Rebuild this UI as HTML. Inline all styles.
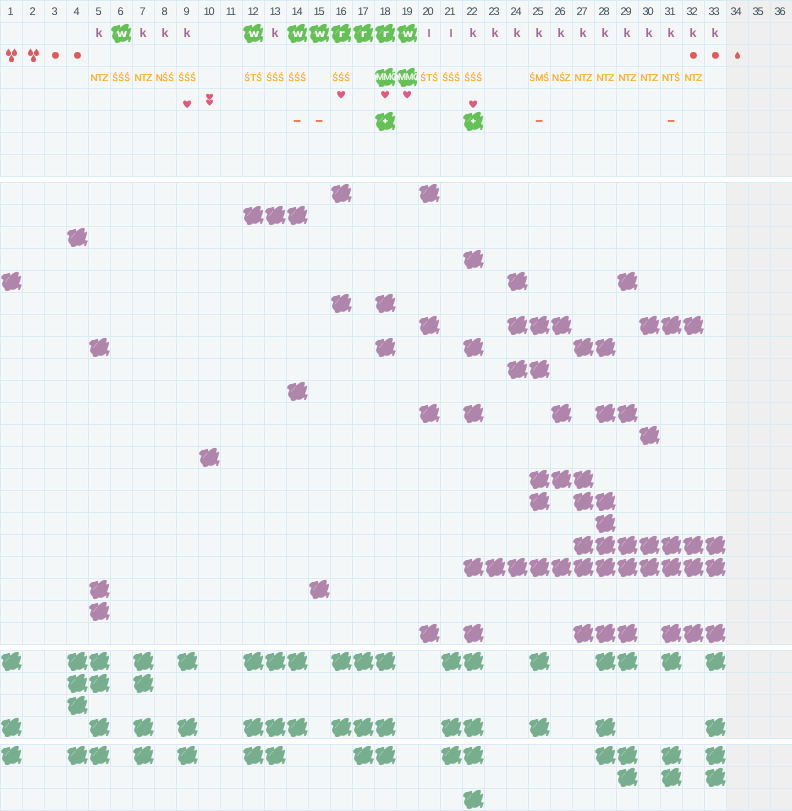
<!DOCTYPE html>
<html lang="pl"><head><meta charset="utf-8"><title>Karta cyklu</title>
<style>
*{box-sizing:border-box;margin:0;padding:0}
html,body{width:792px;height:811px;background:#fff;overflow:hidden}
body{position:relative;text-rendering:geometricPrecision;font-family:"Liberation Sans",Arial,sans-serif;}
.s{position:absolute;left:0;width:792px;border-bottom:1px solid #d9ebf4;background:#f4f7f8}
.r{height:22px;width:792px;display:flex}
.c{position:relative;width:22px;height:22px;flex:0 0 22px;border-left:1px solid #d9ebf4;border-top:1px solid #d9ebf4;overflow:hidden;text-align:center;font-size:11px;line-height:21px;color:#43525c;white-space:nowrap}
.c{box-shadow:inset 0 0 0 1px #f6f8f9}
.c.g{background:#efefef;box-shadow:none}
.n span{display:block;letter-spacing:-1px;position:relative;left:-1px;top:1px}
.n1 span{left:-1.5px}
.n2 span{left:-2px}
.b{position:absolute;left:-1px;top:-1px;width:24px;height:24px}
.b.bg{width:21px}
.bp{fill:#b085ab;stroke:#b085ab}.bn{fill:#77ae8d;stroke:#77ae8d}.bg{fill:#65c056;stroke:#65c056}
.b use:first-child{stroke-width:.1;stroke-linejoin:round}
.i{position:absolute;left:-1px;top:-1px;width:22px;height:22px}
.d1,.d3,.c circle{fill:#df5b5b}
.h{fill:#df5a7f}
.k{position:relative;font-size:12.5px;color:#a46a94;font-weight:bold;left:-.5px;top:0px}
.k.l{font-size:11.2px;top:.5px}
.w{position:relative;font-family:"DejaVu Sans","Liberation Sans",sans-serif;font-size:10.5px;color:#fff;font-weight:bold;z-index:2;left:0;top:1px;display:inline-block;transform:scaleX(1.12)}
.t{position:relative;font-size:9.8px;letter-spacing:-.7px;color:#ffa614;-webkit-text-stroke:.2px #ffa614;z-index:2;display:block;left:-.5px;top:1px}
.t i{display:inline-block;font-style:normal;transform:scaleX(.8);margin:0 .15px}
.t.m{color:#fff;text-align:left;margin-left:1px;margin-right:-6px;letter-spacing:-.55px;font-size:9.6px;left:0;top:0;-webkit-text-stroke:.2px #fff}
.w.p{font-size:6.5px;top:-.6px;left:-.4px;-webkit-text-stroke:.5px #fff;transform:none}
.ds{color:#f07045;font-weight:bold;font-size:12px;position:relative;top:-1.5px;left:-.5px;-webkit-text-stroke:.6px #f07045}
</style></head>
<body>
<svg width="0" height="0" style="position:absolute"><defs>
<path id="bl" d="M1.21 7.58C1.21 7.02 1.32 6.67 1.82 6.06C2.32 5.45 3.16 4.63 3.94 4.24C4.72 3.85 5.17 4.16 6.06 3.94C6.95 3.72 8.07 3.14 8.79 3.03C9.51 2.92 9.72 2.89 10.00 3.33C10.28 3.78 9.91 5.34 10.30 5.45C10.69 5.57 11.34 4.49 12.12 3.94C12.90 3.38 13.66 2.79 14.55 2.42C15.43 2.06 16.25 2.00 16.97 1.97C17.69 1.94 18.18 1.80 18.48 2.27C18.79 2.74 18.75 3.77 18.64 4.55C18.53 5.32 17.74 6.21 17.88 6.52C18.02 6.82 18.84 6.30 19.39 6.21C19.95 6.13 20.69 5.53 20.91 6.06C21.13 6.59 20.83 7.98 20.61 9.09C20.38 10.20 19.97 11.23 19.70 12.12C19.42 13.01 18.92 13.49 19.09 13.94C19.26 14.38 20.13 14.38 20.61 14.55C21.08 14.71 21.61 14.40 21.67 14.85C21.72 15.29 21.21 16.14 20.91 16.97C20.60 17.80 20.39 18.84 20.00 19.39C19.61 19.95 19.13 19.97 18.79 20.00C18.44 20.03 18.20 19.99 18.12 19.55C18.04 19.10 18.57 17.88 18.36 17.58C18.15 17.27 17.67 17.55 16.97 17.88C16.27 18.21 15.43 19.06 14.55 19.39C13.66 19.73 12.84 19.70 12.12 19.70C11.40 19.70 11.16 19.23 10.61 19.39C10.05 19.56 9.81 20.33 9.09 20.61C8.37 20.88 7.39 20.96 6.67 20.91C5.94 20.85 5.54 20.80 5.15 20.30C4.76 19.80 4.93 18.85 4.55 18.18C4.16 17.52 3.47 17.33 3.03 16.67C2.59 16.00 2.23 15.27 2.12 14.55C2.01 13.82 2.20 13.56 2.42 12.73C2.65 11.89 3.44 10.67 3.33 10.00C3.22 9.33 2.21 9.54 1.82 9.09C1.43 8.65 1.21 8.13 1.21 7.58Z"/>
<path id="sk" d="M5.2 11.8L6.6 10.3L8.9 7.2" fill="none" stroke="#fff" stroke-opacity=".55" stroke-width=".6" stroke-linecap="round"/>
<path id="dr" d="M0 -.3C1 1.3 2.55 2.9 2.55 4.45A2.55 2.55 0 0 1 -2.55 4.45C-2.55 2.9 -1 1.3 0 -.3Z"/>
<path id="ht" d="M0 1.5C0.5 0.5 1.3 0 2.2 0C3.3 0 4 0.9 4 2C4 3.8 2.7 5.1 0 7.7C-2.7 5.1 -4 3.8 -4 2C-4 0.9 -3.3 0 -2.2 0C-1.3 0 -0.5 0.5 0 1.5Z"/>
</defs></svg>
<div class="s" style="top:0">
<div class="r"><div class="c n n1"><span>1</span></div><div class="c n n1"><span>2</span></div><div class="c n n1"><span>3</span></div><div class="c n n1"><span>4</span></div><div class="c n n1"><span>5</span></div><div class="c n n1"><span>6</span></div><div class="c n n1"><span>7</span></div><div class="c n n1"><span>8</span></div><div class="c n n1"><span>9</span></div><div class="c n"><span>10</span></div><div class="c n"><span>11</span></div><div class="c n"><span>12</span></div><div class="c n"><span>13</span></div><div class="c n"><span>14</span></div><div class="c n"><span>15</span></div><div class="c n"><span>16</span></div><div class="c n"><span>17</span></div><div class="c n"><span>18</span></div><div class="c n"><span>19</span></div><div class="c n n2"><span>20</span></div><div class="c n n2"><span>21</span></div><div class="c n n2"><span>22</span></div><div class="c n n2"><span>23</span></div><div class="c n n2"><span>24</span></div><div class="c n n2"><span>25</span></div><div class="c n n2"><span>26</span></div><div class="c n n2"><span>27</span></div><div class="c n n2"><span>28</span></div><div class="c n n2"><span>29</span></div><div class="c n n2"><span>30</span></div><div class="c n n2"><span>31</span></div><div class="c n n2"><span>32</span></div><div class="c n n2"><span>33</span></div><div class="c g n n2"><span>34</span></div><div class="c g n n2"><span>35</span></div><div class="c g n n2"><span>36</span></div></div>
<div class="r"><div class="c"></div><div class="c"></div><div class="c"></div><div class="c"></div><div class="c"><b class="k">k</b></div><div class="c"><svg class="b bg" viewBox="0 0 21 24"><use href="#bl"/><use href="#sk"/></svg><b class="w">w</b></div><div class="c"><b class="k">k</b></div><div class="c"><b class="k">k</b></div><div class="c"><b class="k">k</b></div><div class="c"></div><div class="c"></div><div class="c"><svg class="b bg" viewBox="0 0 21 24"><use href="#bl"/><use href="#sk"/></svg><b class="w">w</b></div><div class="c"><b class="k">k</b></div><div class="c"><svg class="b bg" viewBox="0 0 21 24"><use href="#bl"/><use href="#sk"/></svg><b class="w">w</b></div><div class="c"><svg class="b bg" viewBox="0 0 21 24"><use href="#bl"/><use href="#sk"/></svg><b class="w">w</b></div><div class="c"><svg class="b bg" viewBox="0 0 21 24"><use href="#bl"/><use href="#sk"/></svg><b class="w">r</b></div><div class="c"><svg class="b bg" viewBox="0 0 21 24"><use href="#bl"/><use href="#sk"/></svg><b class="w">r</b></div><div class="c"><svg class="b bg" viewBox="0 0 21 24"><use href="#bl"/><use href="#sk"/></svg><b class="w">r</b></div><div class="c"><svg class="b bg" viewBox="0 0 21 24"><use href="#bl"/><use href="#sk"/></svg><b class="w">w</b></div><div class="c"><b class="k l">l</b></div><div class="c"><b class="k l">l</b></div><div class="c"><b class="k">k</b></div><div class="c"><b class="k">k</b></div><div class="c"><b class="k">k</b></div><div class="c"><b class="k">k</b></div><div class="c"><b class="k">k</b></div><div class="c"><b class="k">k</b></div><div class="c"><b class="k">k</b></div><div class="c"><b class="k">k</b></div><div class="c"><b class="k">k</b></div><div class="c"><b class="k">k</b></div><div class="c"><b class="k">k</b></div><div class="c"><b class="k">k</b></div><div class="c g"></div><div class="c g"></div><div class="c g"></div></div>
<div class="r"><div class="c"><svg class="i d3" viewBox="0 0 22 22"><use href="#dr" x="8.5" y="4.9"/><use href="#dr" x="14.5" y="4.9"/><use href="#dr" x="11.5" y="11"/></svg></div><div class="c"><svg class="i d3" viewBox="0 0 22 22"><use href="#dr" x="8.5" y="4.9"/><use href="#dr" x="14.5" y="4.9"/><use href="#dr" x="11.5" y="11"/></svg></div><div class="c"><svg class="i c" viewBox="0 0 22 22"><circle cx="10.95" cy="10.85" r="3.6"/></svg></div><div class="c"><svg class="i c" viewBox="0 0 22 22"><circle cx="10.95" cy="10.85" r="3.6"/></svg></div><div class="c"></div><div class="c"></div><div class="c"></div><div class="c"></div><div class="c"></div><div class="c"></div><div class="c"></div><div class="c"></div><div class="c"></div><div class="c"></div><div class="c"></div><div class="c"></div><div class="c"></div><div class="c"></div><div class="c"></div><div class="c"></div><div class="c"></div><div class="c"></div><div class="c"></div><div class="c"></div><div class="c"></div><div class="c"></div><div class="c"></div><div class="c"></div><div class="c"></div><div class="c"></div><div class="c"></div><div class="c"><svg class="i c" viewBox="0 0 22 22"><circle cx="10.95" cy="10.85" r="3.6"/></svg></div><div class="c"><svg class="i c" viewBox="0 0 22 22"><circle cx="10.95" cy="10.85" r="3.6"/></svg></div><div class="c g"><svg class="i d1" viewBox="0 0 22 22"><use href="#dr" x="11.5" y="7.7"/></svg></div><div class="c g"></div><div class="c g"></div></div>
<div class="r"><div class="c"></div><div class="c"></div><div class="c"></div><div class="c"></div><div class="c"><span class="t">NTZ</span></div><div class="c"><span class="t"><i>Ś</i><i>Ś</i><i>Ś</i></span></div><div class="c"><span class="t">NTZ</span></div><div class="c"><span class="t">N<i>Ś</i><i>Ś</i></span></div><div class="c"><span class="t"><i>Ś</i><i>Ś</i><i>Ś</i></span></div><div class="c"></div><div class="c"></div><div class="c"><span class="t"><i>Ś</i>T<i>Ś</i></span></div><div class="c"><span class="t"><i>Ś</i><i>Ś</i><i>Ś</i></span></div><div class="c"><span class="t"><i>Ś</i><i>Ś</i><i>Ś</i></span></div><div class="c"></div><div class="c"><span class="t"><i>Ś</i><i>Ś</i><i>Ś</i></span></div><div class="c"></div><div class="c"><svg class="b bg" viewBox="0 0 21 24"><use href="#bl"/><use href="#sk"/></svg><span class="t m">MMO</span></div><div class="c"><svg class="b bg" viewBox="0 0 21 24"><use href="#bl"/><use href="#sk"/></svg><span class="t m">MMO</span></div><div class="c"><span class="t"><i>Ś</i>T<i>Ś</i></span></div><div class="c"><span class="t"><i>Ś</i><i>Ś</i><i>Ś</i></span></div><div class="c"><span class="t"><i>Ś</i><i>Ś</i><i>Ś</i></span></div><div class="c"></div><div class="c"></div><div class="c"><span class="t"><i>Ś</i>M<i>Ś</i></span></div><div class="c"><span class="t">N<i>Ś</i>Z</span></div><div class="c"><span class="t">NTZ</span></div><div class="c"><span class="t">NTZ</span></div><div class="c"><span class="t">NTZ</span></div><div class="c"><span class="t">NTZ</span></div><div class="c"><span class="t">NT<i>Ś</i></span></div><div class="c"><span class="t">NTZ</span></div><div class="c"></div><div class="c g"></div><div class="c g"></div><div class="c g"></div></div>
<div class="r"><div class="c"></div><div class="c"></div><div class="c"></div><div class="c"></div><div class="c"></div><div class="c"></div><div class="c"></div><div class="c"></div><div class="c"><svg class="i h" viewBox="0 0 22 22"><use href="#ht" transform="translate(11.1 12.4)"/></svg></div><div class="c"><svg class="i h" viewBox="0 0 22 22"><use href="#ht" transform="translate(11.55 5.8) scale(.875 .8)"/></svg><svg class="i h" viewBox="0 0 22 22"><use href="#ht" transform="translate(11.55 11.5) scale(.875 .8)"/></svg></div><div class="c"></div><div class="c"></div><div class="c"></div><div class="c"></div><div class="c"></div><div class="c"><svg class="i h" viewBox="0 0 22 22"><use href="#ht" transform="translate(11.1 2.9)"/></svg></div><div class="c"></div><div class="c"><svg class="i h" viewBox="0 0 22 22"><use href="#ht" transform="translate(11.1 2.9)"/></svg></div><div class="c"><svg class="i h" viewBox="0 0 22 22"><use href="#ht" transform="translate(11.1 2.9)"/></svg></div><div class="c"></div><div class="c"></div><div class="c"><svg class="i h" viewBox="0 0 22 22"><use href="#ht" transform="translate(11.1 12.4)"/></svg></div><div class="c"></div><div class="c"></div><div class="c"></div><div class="c"></div><div class="c"></div><div class="c"></div><div class="c"></div><div class="c"></div><div class="c"></div><div class="c"></div><div class="c"></div><div class="c g"></div><div class="c g"></div><div class="c g"></div></div>
<div class="r"><div class="c"></div><div class="c"></div><div class="c"></div><div class="c"></div><div class="c"></div><div class="c"></div><div class="c"></div><div class="c"></div><div class="c"></div><div class="c"></div><div class="c"></div><div class="c"></div><div class="c"></div><div class="c"><span class="ds">–</span></div><div class="c"><span class="ds">–</span></div><div class="c"></div><div class="c"></div><div class="c"><svg class="b bg" viewBox="0 0 21 24"><use href="#bl"/><use href="#sk"/></svg><b class="w p">+</b></div><div class="c"></div><div class="c"></div><div class="c"></div><div class="c"><svg class="b bg" viewBox="0 0 21 24"><use href="#bl"/><use href="#sk"/></svg><b class="w p">+</b></div><div class="c"></div><div class="c"></div><div class="c"><span class="ds">–</span></div><div class="c"></div><div class="c"></div><div class="c"></div><div class="c"></div><div class="c"></div><div class="c"><span class="ds">–</span></div><div class="c"></div><div class="c"></div><div class="c g"></div><div class="c g"></div><div class="c g"></div></div>
<div class="r"><div class="c"></div><div class="c"></div><div class="c"></div><div class="c"></div><div class="c"></div><div class="c"></div><div class="c"></div><div class="c"></div><div class="c"></div><div class="c"></div><div class="c"></div><div class="c"></div><div class="c"></div><div class="c"></div><div class="c"></div><div class="c"></div><div class="c"></div><div class="c"></div><div class="c"></div><div class="c"></div><div class="c"></div><div class="c"></div><div class="c"></div><div class="c"></div><div class="c"></div><div class="c"></div><div class="c"></div><div class="c"></div><div class="c"></div><div class="c"></div><div class="c"></div><div class="c"></div><div class="c"></div><div class="c g"></div><div class="c g"></div><div class="c g"></div></div>
<div class="r"><div class="c"></div><div class="c"></div><div class="c"></div><div class="c"></div><div class="c"></div><div class="c"></div><div class="c"></div><div class="c"></div><div class="c"></div><div class="c"></div><div class="c"></div><div class="c"></div><div class="c"></div><div class="c"></div><div class="c"></div><div class="c"></div><div class="c"></div><div class="c"></div><div class="c"></div><div class="c"></div><div class="c"></div><div class="c"></div><div class="c"></div><div class="c"></div><div class="c"></div><div class="c"></div><div class="c"></div><div class="c"></div><div class="c"></div><div class="c"></div><div class="c"></div><div class="c"></div><div class="c"></div><div class="c g"></div><div class="c g"></div><div class="c g"></div></div>
</div>
<div class="s" style="top:182px">
<div class="r"><div class="c"></div><div class="c"></div><div class="c"></div><div class="c"></div><div class="c"></div><div class="c"></div><div class="c"></div><div class="c"></div><div class="c"></div><div class="c"></div><div class="c"></div><div class="c"></div><div class="c"></div><div class="c"></div><div class="c"></div><div class="c"><svg class="b bp" viewBox="0 0 24 24"><use href="#bl"/><use href="#sk"/></svg></div><div class="c"></div><div class="c"></div><div class="c"></div><div class="c"><svg class="b bp" viewBox="0 0 24 24"><use href="#bl"/><use href="#sk"/></svg></div><div class="c"></div><div class="c"></div><div class="c"></div><div class="c"></div><div class="c"></div><div class="c"></div><div class="c"></div><div class="c"></div><div class="c"></div><div class="c"></div><div class="c"></div><div class="c"></div><div class="c"></div><div class="c g"></div><div class="c g"></div><div class="c g"></div></div>
<div class="r"><div class="c"></div><div class="c"></div><div class="c"></div><div class="c"></div><div class="c"></div><div class="c"></div><div class="c"></div><div class="c"></div><div class="c"></div><div class="c"></div><div class="c"></div><div class="c"><svg class="b bp" viewBox="0 0 24 24"><use href="#bl"/><use href="#sk"/></svg></div><div class="c"><svg class="b bp" viewBox="0 0 24 24"><use href="#bl"/><use href="#sk"/></svg></div><div class="c"><svg class="b bp" viewBox="0 0 24 24"><use href="#bl"/><use href="#sk"/></svg></div><div class="c"></div><div class="c"></div><div class="c"></div><div class="c"></div><div class="c"></div><div class="c"></div><div class="c"></div><div class="c"></div><div class="c"></div><div class="c"></div><div class="c"></div><div class="c"></div><div class="c"></div><div class="c"></div><div class="c"></div><div class="c"></div><div class="c"></div><div class="c"></div><div class="c"></div><div class="c g"></div><div class="c g"></div><div class="c g"></div></div>
<div class="r"><div class="c"></div><div class="c"></div><div class="c"></div><div class="c"><svg class="b bp" viewBox="0 0 24 24"><use href="#bl"/><use href="#sk"/></svg></div><div class="c"></div><div class="c"></div><div class="c"></div><div class="c"></div><div class="c"></div><div class="c"></div><div class="c"></div><div class="c"></div><div class="c"></div><div class="c"></div><div class="c"></div><div class="c"></div><div class="c"></div><div class="c"></div><div class="c"></div><div class="c"></div><div class="c"></div><div class="c"></div><div class="c"></div><div class="c"></div><div class="c"></div><div class="c"></div><div class="c"></div><div class="c"></div><div class="c"></div><div class="c"></div><div class="c"></div><div class="c"></div><div class="c"></div><div class="c g"></div><div class="c g"></div><div class="c g"></div></div>
<div class="r"><div class="c"></div><div class="c"></div><div class="c"></div><div class="c"></div><div class="c"></div><div class="c"></div><div class="c"></div><div class="c"></div><div class="c"></div><div class="c"></div><div class="c"></div><div class="c"></div><div class="c"></div><div class="c"></div><div class="c"></div><div class="c"></div><div class="c"></div><div class="c"></div><div class="c"></div><div class="c"></div><div class="c"></div><div class="c"><svg class="b bp" viewBox="0 0 24 24"><use href="#bl"/><use href="#sk"/></svg></div><div class="c"></div><div class="c"></div><div class="c"></div><div class="c"></div><div class="c"></div><div class="c"></div><div class="c"></div><div class="c"></div><div class="c"></div><div class="c"></div><div class="c"></div><div class="c g"></div><div class="c g"></div><div class="c g"></div></div>
<div class="r"><div class="c"><svg class="b bp" viewBox="0 0 24 24"><use href="#bl"/><use href="#sk"/></svg></div><div class="c"></div><div class="c"></div><div class="c"></div><div class="c"></div><div class="c"></div><div class="c"></div><div class="c"></div><div class="c"></div><div class="c"></div><div class="c"></div><div class="c"></div><div class="c"></div><div class="c"></div><div class="c"></div><div class="c"></div><div class="c"></div><div class="c"></div><div class="c"></div><div class="c"></div><div class="c"></div><div class="c"></div><div class="c"></div><div class="c"><svg class="b bp" viewBox="0 0 24 24"><use href="#bl"/><use href="#sk"/></svg></div><div class="c"></div><div class="c"></div><div class="c"></div><div class="c"></div><div class="c"><svg class="b bp" viewBox="0 0 24 24"><use href="#bl"/><use href="#sk"/></svg></div><div class="c"></div><div class="c"></div><div class="c"></div><div class="c"></div><div class="c g"></div><div class="c g"></div><div class="c g"></div></div>
<div class="r"><div class="c"></div><div class="c"></div><div class="c"></div><div class="c"></div><div class="c"></div><div class="c"></div><div class="c"></div><div class="c"></div><div class="c"></div><div class="c"></div><div class="c"></div><div class="c"></div><div class="c"></div><div class="c"></div><div class="c"></div><div class="c"><svg class="b bp" viewBox="0 0 24 24"><use href="#bl"/><use href="#sk"/></svg></div><div class="c"></div><div class="c"><svg class="b bp" viewBox="0 0 24 24"><use href="#bl"/><use href="#sk"/></svg></div><div class="c"></div><div class="c"></div><div class="c"></div><div class="c"></div><div class="c"></div><div class="c"></div><div class="c"></div><div class="c"></div><div class="c"></div><div class="c"></div><div class="c"></div><div class="c"></div><div class="c"></div><div class="c"></div><div class="c"></div><div class="c g"></div><div class="c g"></div><div class="c g"></div></div>
<div class="r"><div class="c"></div><div class="c"></div><div class="c"></div><div class="c"></div><div class="c"></div><div class="c"></div><div class="c"></div><div class="c"></div><div class="c"></div><div class="c"></div><div class="c"></div><div class="c"></div><div class="c"></div><div class="c"></div><div class="c"></div><div class="c"></div><div class="c"></div><div class="c"></div><div class="c"></div><div class="c"><svg class="b bp" viewBox="0 0 24 24"><use href="#bl"/><use href="#sk"/></svg></div><div class="c"></div><div class="c"></div><div class="c"></div><div class="c"><svg class="b bp" viewBox="0 0 24 24"><use href="#bl"/><use href="#sk"/></svg></div><div class="c"><svg class="b bp" viewBox="0 0 24 24"><use href="#bl"/><use href="#sk"/></svg></div><div class="c"><svg class="b bp" viewBox="0 0 24 24"><use href="#bl"/><use href="#sk"/></svg></div><div class="c"></div><div class="c"></div><div class="c"></div><div class="c"><svg class="b bp" viewBox="0 0 24 24"><use href="#bl"/><use href="#sk"/></svg></div><div class="c"><svg class="b bp" viewBox="0 0 24 24"><use href="#bl"/><use href="#sk"/></svg></div><div class="c"><svg class="b bp" viewBox="0 0 24 24"><use href="#bl"/><use href="#sk"/></svg></div><div class="c"></div><div class="c g"></div><div class="c g"></div><div class="c g"></div></div>
<div class="r"><div class="c"></div><div class="c"></div><div class="c"></div><div class="c"></div><div class="c"><svg class="b bp" viewBox="0 0 24 24"><use href="#bl"/><use href="#sk"/></svg></div><div class="c"></div><div class="c"></div><div class="c"></div><div class="c"></div><div class="c"></div><div class="c"></div><div class="c"></div><div class="c"></div><div class="c"></div><div class="c"></div><div class="c"></div><div class="c"></div><div class="c"><svg class="b bp" viewBox="0 0 24 24"><use href="#bl"/><use href="#sk"/></svg></div><div class="c"></div><div class="c"></div><div class="c"></div><div class="c"><svg class="b bp" viewBox="0 0 24 24"><use href="#bl"/><use href="#sk"/></svg></div><div class="c"></div><div class="c"></div><div class="c"></div><div class="c"></div><div class="c"><svg class="b bp" viewBox="0 0 24 24"><use href="#bl"/><use href="#sk"/></svg></div><div class="c"><svg class="b bp" viewBox="0 0 24 24"><use href="#bl"/><use href="#sk"/></svg></div><div class="c"></div><div class="c"></div><div class="c"></div><div class="c"></div><div class="c"></div><div class="c g"></div><div class="c g"></div><div class="c g"></div></div>
<div class="r"><div class="c"></div><div class="c"></div><div class="c"></div><div class="c"></div><div class="c"></div><div class="c"></div><div class="c"></div><div class="c"></div><div class="c"></div><div class="c"></div><div class="c"></div><div class="c"></div><div class="c"></div><div class="c"></div><div class="c"></div><div class="c"></div><div class="c"></div><div class="c"></div><div class="c"></div><div class="c"></div><div class="c"></div><div class="c"></div><div class="c"></div><div class="c"><svg class="b bp" viewBox="0 0 24 24"><use href="#bl"/><use href="#sk"/></svg></div><div class="c"><svg class="b bp" viewBox="0 0 24 24"><use href="#bl"/><use href="#sk"/></svg></div><div class="c"></div><div class="c"></div><div class="c"></div><div class="c"></div><div class="c"></div><div class="c"></div><div class="c"></div><div class="c"></div><div class="c g"></div><div class="c g"></div><div class="c g"></div></div>
<div class="r"><div class="c"></div><div class="c"></div><div class="c"></div><div class="c"></div><div class="c"></div><div class="c"></div><div class="c"></div><div class="c"></div><div class="c"></div><div class="c"></div><div class="c"></div><div class="c"></div><div class="c"></div><div class="c"><svg class="b bp" viewBox="0 0 24 24"><use href="#bl"/><use href="#sk"/></svg></div><div class="c"></div><div class="c"></div><div class="c"></div><div class="c"></div><div class="c"></div><div class="c"></div><div class="c"></div><div class="c"></div><div class="c"></div><div class="c"></div><div class="c"></div><div class="c"></div><div class="c"></div><div class="c"></div><div class="c"></div><div class="c"></div><div class="c"></div><div class="c"></div><div class="c"></div><div class="c g"></div><div class="c g"></div><div class="c g"></div></div>
<div class="r"><div class="c"></div><div class="c"></div><div class="c"></div><div class="c"></div><div class="c"></div><div class="c"></div><div class="c"></div><div class="c"></div><div class="c"></div><div class="c"></div><div class="c"></div><div class="c"></div><div class="c"></div><div class="c"></div><div class="c"></div><div class="c"></div><div class="c"></div><div class="c"></div><div class="c"></div><div class="c"><svg class="b bp" viewBox="0 0 24 24"><use href="#bl"/><use href="#sk"/></svg></div><div class="c"></div><div class="c"><svg class="b bp" viewBox="0 0 24 24"><use href="#bl"/><use href="#sk"/></svg></div><div class="c"></div><div class="c"></div><div class="c"></div><div class="c"><svg class="b bp" viewBox="0 0 24 24"><use href="#bl"/><use href="#sk"/></svg></div><div class="c"></div><div class="c"><svg class="b bp" viewBox="0 0 24 24"><use href="#bl"/><use href="#sk"/></svg></div><div class="c"><svg class="b bp" viewBox="0 0 24 24"><use href="#bl"/><use href="#sk"/></svg></div><div class="c"></div><div class="c"></div><div class="c"></div><div class="c"></div><div class="c g"></div><div class="c g"></div><div class="c g"></div></div>
<div class="r"><div class="c"></div><div class="c"></div><div class="c"></div><div class="c"></div><div class="c"></div><div class="c"></div><div class="c"></div><div class="c"></div><div class="c"></div><div class="c"></div><div class="c"></div><div class="c"></div><div class="c"></div><div class="c"></div><div class="c"></div><div class="c"></div><div class="c"></div><div class="c"></div><div class="c"></div><div class="c"></div><div class="c"></div><div class="c"></div><div class="c"></div><div class="c"></div><div class="c"></div><div class="c"></div><div class="c"></div><div class="c"></div><div class="c"></div><div class="c"><svg class="b bp" viewBox="0 0 24 24"><use href="#bl"/><use href="#sk"/></svg></div><div class="c"></div><div class="c"></div><div class="c"></div><div class="c g"></div><div class="c g"></div><div class="c g"></div></div>
<div class="r"><div class="c"></div><div class="c"></div><div class="c"></div><div class="c"></div><div class="c"></div><div class="c"></div><div class="c"></div><div class="c"></div><div class="c"></div><div class="c"><svg class="b bp" viewBox="0 0 24 24"><use href="#bl"/><use href="#sk"/></svg></div><div class="c"></div><div class="c"></div><div class="c"></div><div class="c"></div><div class="c"></div><div class="c"></div><div class="c"></div><div class="c"></div><div class="c"></div><div class="c"></div><div class="c"></div><div class="c"></div><div class="c"></div><div class="c"></div><div class="c"></div><div class="c"></div><div class="c"></div><div class="c"></div><div class="c"></div><div class="c"></div><div class="c"></div><div class="c"></div><div class="c"></div><div class="c g"></div><div class="c g"></div><div class="c g"></div></div>
<div class="r"><div class="c"></div><div class="c"></div><div class="c"></div><div class="c"></div><div class="c"></div><div class="c"></div><div class="c"></div><div class="c"></div><div class="c"></div><div class="c"></div><div class="c"></div><div class="c"></div><div class="c"></div><div class="c"></div><div class="c"></div><div class="c"></div><div class="c"></div><div class="c"></div><div class="c"></div><div class="c"></div><div class="c"></div><div class="c"></div><div class="c"></div><div class="c"></div><div class="c"><svg class="b bp" viewBox="0 0 24 24"><use href="#bl"/><use href="#sk"/></svg></div><div class="c"><svg class="b bp" viewBox="0 0 24 24"><use href="#bl"/><use href="#sk"/></svg></div><div class="c"><svg class="b bp" viewBox="0 0 24 24"><use href="#bl"/><use href="#sk"/></svg></div><div class="c"></div><div class="c"></div><div class="c"></div><div class="c"></div><div class="c"></div><div class="c"></div><div class="c g"></div><div class="c g"></div><div class="c g"></div></div>
<div class="r"><div class="c"></div><div class="c"></div><div class="c"></div><div class="c"></div><div class="c"></div><div class="c"></div><div class="c"></div><div class="c"></div><div class="c"></div><div class="c"></div><div class="c"></div><div class="c"></div><div class="c"></div><div class="c"></div><div class="c"></div><div class="c"></div><div class="c"></div><div class="c"></div><div class="c"></div><div class="c"></div><div class="c"></div><div class="c"></div><div class="c"></div><div class="c"></div><div class="c"><svg class="b bp" viewBox="0 0 24 24"><use href="#bl"/><use href="#sk"/></svg></div><div class="c"></div><div class="c"><svg class="b bp" viewBox="0 0 24 24"><use href="#bl"/><use href="#sk"/></svg></div><div class="c"><svg class="b bp" viewBox="0 0 24 24"><use href="#bl"/><use href="#sk"/></svg></div><div class="c"></div><div class="c"></div><div class="c"></div><div class="c"></div><div class="c"></div><div class="c g"></div><div class="c g"></div><div class="c g"></div></div>
<div class="r"><div class="c"></div><div class="c"></div><div class="c"></div><div class="c"></div><div class="c"></div><div class="c"></div><div class="c"></div><div class="c"></div><div class="c"></div><div class="c"></div><div class="c"></div><div class="c"></div><div class="c"></div><div class="c"></div><div class="c"></div><div class="c"></div><div class="c"></div><div class="c"></div><div class="c"></div><div class="c"></div><div class="c"></div><div class="c"></div><div class="c"></div><div class="c"></div><div class="c"></div><div class="c"></div><div class="c"></div><div class="c"><svg class="b bp" viewBox="0 0 24 24"><use href="#bl"/><use href="#sk"/></svg></div><div class="c"></div><div class="c"></div><div class="c"></div><div class="c"></div><div class="c"></div><div class="c g"></div><div class="c g"></div><div class="c g"></div></div>
<div class="r"><div class="c"></div><div class="c"></div><div class="c"></div><div class="c"></div><div class="c"></div><div class="c"></div><div class="c"></div><div class="c"></div><div class="c"></div><div class="c"></div><div class="c"></div><div class="c"></div><div class="c"></div><div class="c"></div><div class="c"></div><div class="c"></div><div class="c"></div><div class="c"></div><div class="c"></div><div class="c"></div><div class="c"></div><div class="c"></div><div class="c"></div><div class="c"></div><div class="c"></div><div class="c"></div><div class="c"><svg class="b bp" viewBox="0 0 24 24"><use href="#bl"/><use href="#sk"/></svg></div><div class="c"><svg class="b bp" viewBox="0 0 24 24"><use href="#bl"/><use href="#sk"/></svg></div><div class="c"><svg class="b bp" viewBox="0 0 24 24"><use href="#bl"/><use href="#sk"/></svg></div><div class="c"><svg class="b bp" viewBox="0 0 24 24"><use href="#bl"/><use href="#sk"/></svg></div><div class="c"><svg class="b bp" viewBox="0 0 24 24"><use href="#bl"/><use href="#sk"/></svg></div><div class="c"><svg class="b bp" viewBox="0 0 24 24"><use href="#bl"/><use href="#sk"/></svg></div><div class="c"><svg class="b bp" viewBox="0 0 24 24"><use href="#bl"/><use href="#sk"/></svg></div><div class="c g"></div><div class="c g"></div><div class="c g"></div></div>
<div class="r"><div class="c"></div><div class="c"></div><div class="c"></div><div class="c"></div><div class="c"></div><div class="c"></div><div class="c"></div><div class="c"></div><div class="c"></div><div class="c"></div><div class="c"></div><div class="c"></div><div class="c"></div><div class="c"></div><div class="c"></div><div class="c"></div><div class="c"></div><div class="c"></div><div class="c"></div><div class="c"></div><div class="c"></div><div class="c"><svg class="b bp" viewBox="0 0 24 24"><use href="#bl"/><use href="#sk"/></svg></div><div class="c"><svg class="b bp" viewBox="0 0 24 24"><use href="#bl"/><use href="#sk"/></svg></div><div class="c"><svg class="b bp" viewBox="0 0 24 24"><use href="#bl"/><use href="#sk"/></svg></div><div class="c"><svg class="b bp" viewBox="0 0 24 24"><use href="#bl"/><use href="#sk"/></svg></div><div class="c"><svg class="b bp" viewBox="0 0 24 24"><use href="#bl"/><use href="#sk"/></svg></div><div class="c"><svg class="b bp" viewBox="0 0 24 24"><use href="#bl"/><use href="#sk"/></svg></div><div class="c"><svg class="b bp" viewBox="0 0 24 24"><use href="#bl"/><use href="#sk"/></svg></div><div class="c"><svg class="b bp" viewBox="0 0 24 24"><use href="#bl"/><use href="#sk"/></svg></div><div class="c"><svg class="b bp" viewBox="0 0 24 24"><use href="#bl"/><use href="#sk"/></svg></div><div class="c"><svg class="b bp" viewBox="0 0 24 24"><use href="#bl"/><use href="#sk"/></svg></div><div class="c"><svg class="b bp" viewBox="0 0 24 24"><use href="#bl"/><use href="#sk"/></svg></div><div class="c"><svg class="b bp" viewBox="0 0 24 24"><use href="#bl"/><use href="#sk"/></svg></div><div class="c g"></div><div class="c g"></div><div class="c g"></div></div>
<div class="r"><div class="c"></div><div class="c"></div><div class="c"></div><div class="c"></div><div class="c"><svg class="b bp" viewBox="0 0 24 24"><use href="#bl"/><use href="#sk"/></svg></div><div class="c"></div><div class="c"></div><div class="c"></div><div class="c"></div><div class="c"></div><div class="c"></div><div class="c"></div><div class="c"></div><div class="c"></div><div class="c"><svg class="b bp" viewBox="0 0 24 24"><use href="#bl"/><use href="#sk"/></svg></div><div class="c"></div><div class="c"></div><div class="c"></div><div class="c"></div><div class="c"></div><div class="c"></div><div class="c"></div><div class="c"></div><div class="c"></div><div class="c"></div><div class="c"></div><div class="c"></div><div class="c"></div><div class="c"></div><div class="c"></div><div class="c"></div><div class="c"></div><div class="c"></div><div class="c g"></div><div class="c g"></div><div class="c g"></div></div>
<div class="r"><div class="c"></div><div class="c"></div><div class="c"></div><div class="c"></div><div class="c"><svg class="b bp" viewBox="0 0 24 24"><use href="#bl"/><use href="#sk"/></svg></div><div class="c"></div><div class="c"></div><div class="c"></div><div class="c"></div><div class="c"></div><div class="c"></div><div class="c"></div><div class="c"></div><div class="c"></div><div class="c"></div><div class="c"></div><div class="c"></div><div class="c"></div><div class="c"></div><div class="c"></div><div class="c"></div><div class="c"></div><div class="c"></div><div class="c"></div><div class="c"></div><div class="c"></div><div class="c"></div><div class="c"></div><div class="c"></div><div class="c"></div><div class="c"></div><div class="c"></div><div class="c"></div><div class="c g"></div><div class="c g"></div><div class="c g"></div></div>
<div class="r"><div class="c"></div><div class="c"></div><div class="c"></div><div class="c"></div><div class="c"></div><div class="c"></div><div class="c"></div><div class="c"></div><div class="c"></div><div class="c"></div><div class="c"></div><div class="c"></div><div class="c"></div><div class="c"></div><div class="c"></div><div class="c"></div><div class="c"></div><div class="c"></div><div class="c"></div><div class="c"><svg class="b bp" viewBox="0 0 24 24"><use href="#bl"/><use href="#sk"/></svg></div><div class="c"></div><div class="c"><svg class="b bp" viewBox="0 0 24 24"><use href="#bl"/><use href="#sk"/></svg></div><div class="c"></div><div class="c"></div><div class="c"></div><div class="c"></div><div class="c"><svg class="b bp" viewBox="0 0 24 24"><use href="#bl"/><use href="#sk"/></svg></div><div class="c"><svg class="b bp" viewBox="0 0 24 24"><use href="#bl"/><use href="#sk"/></svg></div><div class="c"><svg class="b bp" viewBox="0 0 24 24"><use href="#bl"/><use href="#sk"/></svg></div><div class="c"></div><div class="c"><svg class="b bp" viewBox="0 0 24 24"><use href="#bl"/><use href="#sk"/></svg></div><div class="c"><svg class="b bp" viewBox="0 0 24 24"><use href="#bl"/><use href="#sk"/></svg></div><div class="c"><svg class="b bp" viewBox="0 0 24 24"><use href="#bl"/><use href="#sk"/></svg></div><div class="c g"></div><div class="c g"></div><div class="c g"></div></div>
</div>
<div class="s" style="top:650px">
<div class="r"><div class="c"><svg class="b bn" viewBox="0 0 24 24"><use href="#bl"/><use href="#sk"/></svg></div><div class="c"></div><div class="c"></div><div class="c"><svg class="b bn" viewBox="0 0 24 24"><use href="#bl"/><use href="#sk"/></svg></div><div class="c"><svg class="b bn" viewBox="0 0 24 24"><use href="#bl"/><use href="#sk"/></svg></div><div class="c"></div><div class="c"><svg class="b bn" viewBox="0 0 24 24"><use href="#bl"/><use href="#sk"/></svg></div><div class="c"></div><div class="c"><svg class="b bn" viewBox="0 0 24 24"><use href="#bl"/><use href="#sk"/></svg></div><div class="c"></div><div class="c"></div><div class="c"><svg class="b bn" viewBox="0 0 24 24"><use href="#bl"/><use href="#sk"/></svg></div><div class="c"><svg class="b bn" viewBox="0 0 24 24"><use href="#bl"/><use href="#sk"/></svg></div><div class="c"><svg class="b bn" viewBox="0 0 24 24"><use href="#bl"/><use href="#sk"/></svg></div><div class="c"></div><div class="c"><svg class="b bn" viewBox="0 0 24 24"><use href="#bl"/><use href="#sk"/></svg></div><div class="c"><svg class="b bn" viewBox="0 0 24 24"><use href="#bl"/><use href="#sk"/></svg></div><div class="c"><svg class="b bn" viewBox="0 0 24 24"><use href="#bl"/><use href="#sk"/></svg></div><div class="c"></div><div class="c"></div><div class="c"><svg class="b bn" viewBox="0 0 24 24"><use href="#bl"/><use href="#sk"/></svg></div><div class="c"><svg class="b bn" viewBox="0 0 24 24"><use href="#bl"/><use href="#sk"/></svg></div><div class="c"></div><div class="c"></div><div class="c"><svg class="b bn" viewBox="0 0 24 24"><use href="#bl"/><use href="#sk"/></svg></div><div class="c"></div><div class="c"></div><div class="c"><svg class="b bn" viewBox="0 0 24 24"><use href="#bl"/><use href="#sk"/></svg></div><div class="c"><svg class="b bn" viewBox="0 0 24 24"><use href="#bl"/><use href="#sk"/></svg></div><div class="c"></div><div class="c"><svg class="b bn" viewBox="0 0 24 24"><use href="#bl"/><use href="#sk"/></svg></div><div class="c"></div><div class="c"><svg class="b bn" viewBox="0 0 24 24"><use href="#bl"/><use href="#sk"/></svg></div><div class="c g"></div><div class="c g"></div><div class="c g"></div></div>
<div class="r"><div class="c"></div><div class="c"></div><div class="c"></div><div class="c"><svg class="b bn" viewBox="0 0 24 24"><use href="#bl"/><use href="#sk"/></svg></div><div class="c"><svg class="b bn" viewBox="0 0 24 24"><use href="#bl"/><use href="#sk"/></svg></div><div class="c"></div><div class="c"><svg class="b bn" viewBox="0 0 24 24"><use href="#bl"/><use href="#sk"/></svg></div><div class="c"></div><div class="c"></div><div class="c"></div><div class="c"></div><div class="c"></div><div class="c"></div><div class="c"></div><div class="c"></div><div class="c"></div><div class="c"></div><div class="c"></div><div class="c"></div><div class="c"></div><div class="c"></div><div class="c"></div><div class="c"></div><div class="c"></div><div class="c"></div><div class="c"></div><div class="c"></div><div class="c"></div><div class="c"></div><div class="c"></div><div class="c"></div><div class="c"></div><div class="c"></div><div class="c g"></div><div class="c g"></div><div class="c g"></div></div>
<div class="r"><div class="c"></div><div class="c"></div><div class="c"></div><div class="c"><svg class="b bn" viewBox="0 0 24 24"><use href="#bl"/><use href="#sk"/></svg></div><div class="c"></div><div class="c"></div><div class="c"></div><div class="c"></div><div class="c"></div><div class="c"></div><div class="c"></div><div class="c"></div><div class="c"></div><div class="c"></div><div class="c"></div><div class="c"></div><div class="c"></div><div class="c"></div><div class="c"></div><div class="c"></div><div class="c"></div><div class="c"></div><div class="c"></div><div class="c"></div><div class="c"></div><div class="c"></div><div class="c"></div><div class="c"></div><div class="c"></div><div class="c"></div><div class="c"></div><div class="c"></div><div class="c"></div><div class="c g"></div><div class="c g"></div><div class="c g"></div></div>
<div class="r"><div class="c"><svg class="b bn" viewBox="0 0 24 24"><use href="#bl"/><use href="#sk"/></svg></div><div class="c"></div><div class="c"></div><div class="c"></div><div class="c"><svg class="b bn" viewBox="0 0 24 24"><use href="#bl"/><use href="#sk"/></svg></div><div class="c"></div><div class="c"><svg class="b bn" viewBox="0 0 24 24"><use href="#bl"/><use href="#sk"/></svg></div><div class="c"></div><div class="c"><svg class="b bn" viewBox="0 0 24 24"><use href="#bl"/><use href="#sk"/></svg></div><div class="c"></div><div class="c"></div><div class="c"><svg class="b bn" viewBox="0 0 24 24"><use href="#bl"/><use href="#sk"/></svg></div><div class="c"><svg class="b bn" viewBox="0 0 24 24"><use href="#bl"/><use href="#sk"/></svg></div><div class="c"><svg class="b bn" viewBox="0 0 24 24"><use href="#bl"/><use href="#sk"/></svg></div><div class="c"></div><div class="c"><svg class="b bn" viewBox="0 0 24 24"><use href="#bl"/><use href="#sk"/></svg></div><div class="c"><svg class="b bn" viewBox="0 0 24 24"><use href="#bl"/><use href="#sk"/></svg></div><div class="c"><svg class="b bn" viewBox="0 0 24 24"><use href="#bl"/><use href="#sk"/></svg></div><div class="c"></div><div class="c"></div><div class="c"><svg class="b bn" viewBox="0 0 24 24"><use href="#bl"/><use href="#sk"/></svg></div><div class="c"><svg class="b bn" viewBox="0 0 24 24"><use href="#bl"/><use href="#sk"/></svg></div><div class="c"></div><div class="c"></div><div class="c"><svg class="b bn" viewBox="0 0 24 24"><use href="#bl"/><use href="#sk"/></svg></div><div class="c"></div><div class="c"></div><div class="c"><svg class="b bn" viewBox="0 0 24 24"><use href="#bl"/><use href="#sk"/></svg></div><div class="c"></div><div class="c"></div><div class="c"></div><div class="c"></div><div class="c"><svg class="b bn" viewBox="0 0 24 24"><use href="#bl"/><use href="#sk"/></svg></div><div class="c g"></div><div class="c g"></div><div class="c g"></div></div>
</div>
<div class="s" style="top:744px">
<div class="r"><div class="c"><svg class="b bn" viewBox="0 0 24 24"><use href="#bl"/><use href="#sk"/></svg></div><div class="c"></div><div class="c"></div><div class="c"><svg class="b bn" viewBox="0 0 24 24"><use href="#bl"/><use href="#sk"/></svg></div><div class="c"><svg class="b bn" viewBox="0 0 24 24"><use href="#bl"/><use href="#sk"/></svg></div><div class="c"></div><div class="c"><svg class="b bn" viewBox="0 0 24 24"><use href="#bl"/><use href="#sk"/></svg></div><div class="c"></div><div class="c"><svg class="b bn" viewBox="0 0 24 24"><use href="#bl"/><use href="#sk"/></svg></div><div class="c"></div><div class="c"></div><div class="c"><svg class="b bn" viewBox="0 0 24 24"><use href="#bl"/><use href="#sk"/></svg></div><div class="c"><svg class="b bn" viewBox="0 0 24 24"><use href="#bl"/><use href="#sk"/></svg></div><div class="c"></div><div class="c"></div><div class="c"></div><div class="c"><svg class="b bn" viewBox="0 0 24 24"><use href="#bl"/><use href="#sk"/></svg></div><div class="c"><svg class="b bn" viewBox="0 0 24 24"><use href="#bl"/><use href="#sk"/></svg></div><div class="c"></div><div class="c"></div><div class="c"><svg class="b bn" viewBox="0 0 24 24"><use href="#bl"/><use href="#sk"/></svg></div><div class="c"><svg class="b bn" viewBox="0 0 24 24"><use href="#bl"/><use href="#sk"/></svg></div><div class="c"></div><div class="c"></div><div class="c"></div><div class="c"></div><div class="c"></div><div class="c"><svg class="b bn" viewBox="0 0 24 24"><use href="#bl"/><use href="#sk"/></svg></div><div class="c"><svg class="b bn" viewBox="0 0 24 24"><use href="#bl"/><use href="#sk"/></svg></div><div class="c"></div><div class="c"><svg class="b bn" viewBox="0 0 24 24"><use href="#bl"/><use href="#sk"/></svg></div><div class="c"></div><div class="c"><svg class="b bn" viewBox="0 0 24 24"><use href="#bl"/><use href="#sk"/></svg></div><div class="c g"></div><div class="c g"></div><div class="c g"></div></div>
<div class="r"><div class="c"></div><div class="c"></div><div class="c"></div><div class="c"></div><div class="c"></div><div class="c"></div><div class="c"></div><div class="c"></div><div class="c"></div><div class="c"></div><div class="c"></div><div class="c"></div><div class="c"></div><div class="c"></div><div class="c"></div><div class="c"></div><div class="c"></div><div class="c"></div><div class="c"></div><div class="c"></div><div class="c"></div><div class="c"></div><div class="c"></div><div class="c"></div><div class="c"></div><div class="c"></div><div class="c"></div><div class="c"></div><div class="c"><svg class="b bn" viewBox="0 0 24 24"><use href="#bl"/><use href="#sk"/></svg></div><div class="c"></div><div class="c"><svg class="b bn" viewBox="0 0 24 24"><use href="#bl"/><use href="#sk"/></svg></div><div class="c"></div><div class="c"><svg class="b bn" viewBox="0 0 24 24"><use href="#bl"/><use href="#sk"/></svg></div><div class="c g"></div><div class="c g"></div><div class="c g"></div></div>
<div class="r"><div class="c"></div><div class="c"></div><div class="c"></div><div class="c"></div><div class="c"></div><div class="c"></div><div class="c"></div><div class="c"></div><div class="c"></div><div class="c"></div><div class="c"></div><div class="c"></div><div class="c"></div><div class="c"></div><div class="c"></div><div class="c"></div><div class="c"></div><div class="c"></div><div class="c"></div><div class="c"></div><div class="c"></div><div class="c"><svg class="b bn" viewBox="0 0 24 24"><use href="#bl"/><use href="#sk"/></svg></div><div class="c"></div><div class="c"></div><div class="c"></div><div class="c"></div><div class="c"></div><div class="c"></div><div class="c"></div><div class="c"></div><div class="c"></div><div class="c"></div><div class="c"></div><div class="c g"></div><div class="c g"></div><div class="c g"></div></div>
</div>
</body></html>
